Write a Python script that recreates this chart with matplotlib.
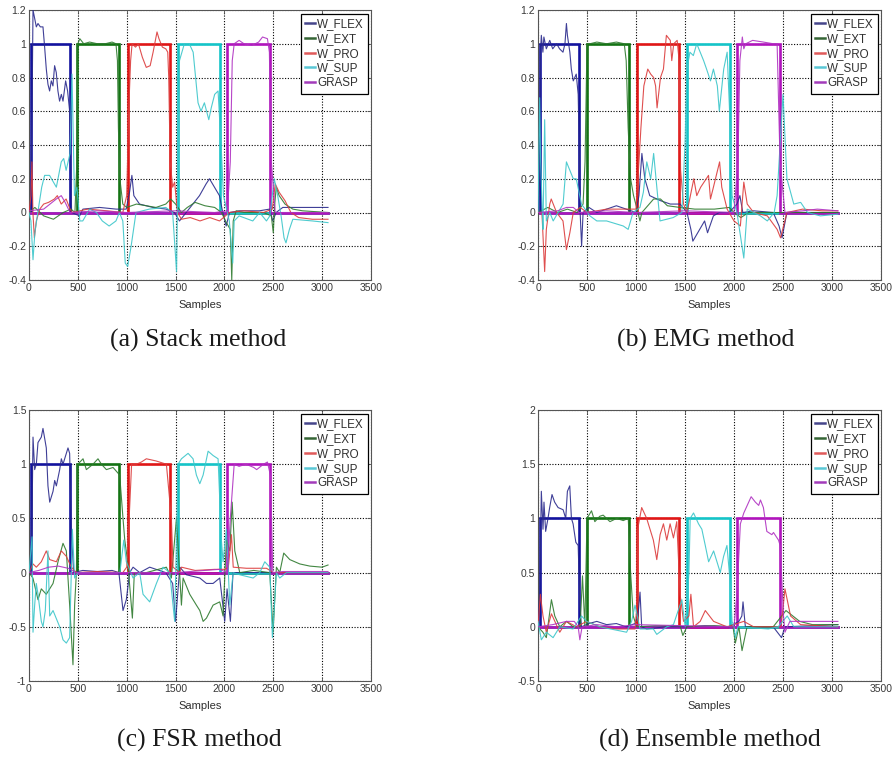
import matplotlib
matplotlib.use("Agg")
import matplotlib.pyplot as plt
from matplotlib.lines import Line2D

# ---------------- data ----------------
CLASSES = ["W_FLEX", "W_EXT", "W_PRO", "W_SUP", "GRASP"]
CAPTIONS = ["(a) Stack method", "(b) EMG method", "(c) FSR method", "(d) Ensemble method"]
X_TICKS = [0, 500, 1000, 1500, 2000, 2500, 3000, 3500]
X_LABEL = "Samples"

# target step intervals (same for all four panels)
TARGET_ON = [25, 495, 1010, 1520, 2030]
TARGET_OFF = [415, 925, 1440, 1955, 2465]
SAMPLE_END = 3060

# y-axis ticks per panel
YT_A = [-0.4, -0.2, 0, 0.2, 0.4, 0.6, 0.8, 1, 1.2]
YL_A = ["-0.4", "-0.2", "0", "0.2", "0.4", "0.6", "0.8", "1", "1.2"]
YT_B = YT_A
YL_B = YL_A
YT_C = [-1, -0.5, 0, 0.5, 1, 1.5]
YL_C = ["-1", "-0.5", "0", "0.5", "1", "1.5"]
YT_D = [-0.5, 0, 0.5, 1, 1.5, 2]
YL_D = ["-0.5", "0", "0.5", "1", "1.5", "2"]

# ---- (a) Stack method outputs ----
A_FLEX_X = [0, 17, 31, 41, 58, 75, 92, 116, 143, 160, 177, 194, 211, 228, 245, 262, 279, 296, 313, 331, 348, 375, 395, 416, 426, 436,
            518, 552, 722, 893, 995, 1029, 1053, 1073, 1131, 1268, 1404, 1489, 1540, 1609, 1677, 1745, 1813, 1847, 1898, 1949, 1983,
            2018, 2052, 2154, 2358, 2461, 2495, 2529, 2597, 2767, 3060]
A_FLEX_Y = [0.0, 0.05, 0.6, 1.2, 1.15, 1.1, 1.12, 1.1, 1.1, 0.98, 0.85, 0.76, 0.72, 0.78, 0.75, 0.87, 0.83, 0.72, 0.66, 0.7, 0.66, 0.78, 0.72, 0.6, 0.3, 0.0,
            -0.02, 0.02, 0.03, 0.02, 0.02, 0.12, 0.22, 0.1, 0.05, 0.03, 0.02, 0.0, -0.05, 0.0, 0.05, 0.1, 0.17, 0.2, 0.15, 0.1, 0.0,
            -0.08, 0.0, 0.01, 0.01, 0.02, -0.05, 0.0, 0.03, 0.03, 0.03]
A_EXT_X = [0, 60, 150, 250, 350, 430, 470, 490, 500, 520, 560, 620, 700, 780, 850, 890, 905, 915, 930, 960, 1000, 1100, 1200, 1300,
           1400, 1450, 1500, 1560, 1620, 1700, 1800, 1900, 1970, 2020, 2060, 2075, 2090, 2120, 2200, 2300, 2400, 2480, 2500, 2515,
           2530, 2560, 2620, 2700, 2800, 3060]
A_EXT_Y = [0.0, 0.03, -0.02, -0.04, 0.0, 0.02, 0.0, 0.3, 1.0, 1.03, 1.0, 1.01, 1.0, 1.0, 1.01, 1.0, 0.9, 0.5, 0.2, 0.05, 0.03, 0.05, 0.04, 0.03,
           0.05, 0.08, 0.05, 0.0, 0.03, 0.06, 0.04, 0.03, 0.0, -0.06, -0.1, -0.4, -0.05, 0.01, 0.0, 0.0, 0.0, -0.02, -0.12, 0.05,
           0.15, 0.1, 0.05, 0.02, 0.01, 0.0]
A_PRO_X = [0, 20, 30, 40, 55, 75, 110, 150, 200, 260, 290, 330, 380, 420, 440, 600, 800, 960, 1000, 1020, 1040, 1055, 1090, 1120,
           1160, 1200, 1240, 1270, 1310, 1330, 1365, 1400, 1420, 1430, 1445, 1470, 1490, 1520, 1560, 1650, 1750, 1850, 1950, 2050,
           2200, 2400, 2490, 2520, 2560, 2620, 2680, 2760, 2900, 3060]
A_PRO_Y = [0.0, 0.1, 0.3, 0.0, -0.15, -0.05, 0.02, 0.05, 0.06, 0.08, 0.1, 0.05, 0.08, 0.02, 0.0, 0.02, 0.01, 0.0, 0.1, 0.6, 0.9, 1.0, 0.98, 1.0,
           0.92, 0.86, 0.87, 0.95, 1.07, 1.03, 0.98, 0.97, 0.95, 0.8, 0.3, 0.15, 0.18, 0.0, -0.04, -0.03, -0.05, -0.03, -0.05, 0.0,
           0.01, 0.0, 0.02, 0.17, 0.12, 0.07, 0.0, -0.03, -0.04, -0.04]
A_SUP_X = [0, 20, 41, 60, 90, 130, 160, 210, 280, 330, 355, 380, 400, 420, 440, 465, 490, 520, 550, 620, 690, 750, 820, 890, 925,
           960, 985, 1010, 1045, 1095, 1230, 1400, 1470, 1510, 1540, 1590, 1640, 1680, 1705, 1730, 1760, 1795, 1840, 1865, 1900,
           1935, 1970, 1990, 2050, 2085, 2100, 2150, 2290, 2360, 2430, 2465, 2510, 2545, 2580, 2610, 2630, 2665, 2700, 2900, 3060]
A_SUP_Y = [0.0, -0.05, -0.28, -0.12, 0.0, 0.15, 0.22, 0.22, 0.15, 0.3, 0.32, 0.25, 0.3, 0.35, 0.82, 0.1, 0.15, -0.05, -0.05, 0.02, 0.0, -0.05, -0.08, -0.05, 0.0,
           -0.05, -0.3, -0.32, -0.2, 0.0, 0.02, 0.03, 0.0, -0.35, 0.9, 1.0, 1.0, 0.95, 0.8, 0.65, 0.6, 0.65, 0.55, 0.62, 0.7,
           0.72, 0.35, 0.1, -0.05, -0.3, -0.05, -0.02, -0.05, 0.0, -0.05, -0.02, 0.2, 0.1, -0.02, -0.15, -0.18, -0.1, -0.04, -0.05, -0.06]
A_GRASP_X = [0, 150, 280, 330, 370, 420, 700, 1000, 1500, 1900, 2030, 2060, 2080, 2100, 2150, 2200, 2280, 2350, 2390, 2440, 2460,
             2480, 2520, 3060]
A_GRASP_Y = [0.01, 0.02, 0.08, 0.1, 0.06, 0.0, 0.01, 0.0, 0.01, 0.0, 0.01, 0.3, 0.9, 1.0, 1.02, 1.0, 0.99, 1.01, 1.04, 1.03, 0.95,
             0.3, 0.0, 0.0]

# ---- (b) EMG method outputs ----
B_FLEX_X = [0, 17, 25, 34, 50, 60, 85, 120, 150, 190, 220, 255, 275, 290, 300, 325, 340, 360, 375, 390, 410, 420, 430, 445, 460,
            520, 600, 700, 800, 900, 1000, 1030, 1060, 1090, 1140, 1250, 1350, 1450, 1520, 1560, 1580, 1650, 1700, 1730, 1790,
            1850, 1950, 2030, 2060, 2090, 2200, 2400, 2460, 2490, 2540, 3060]
B_FLEX_Y = [0.0, 0.2, 0.95, 1.05, 0.95, 1.04, 0.97, 1.02, 0.97, 1.0, 0.97, 0.95, 1.0, 1.12, 1.05, 0.95, 0.85, 0.78, 0.8, 0.82, 0.7, 0.4, 0.0, -0.2, 0.0,
            0.03, 0.0, 0.02, 0.04, 0.02, 0.0, 0.1, 0.35, 0.2, 0.1, 0.07, 0.05, 0.05, 0.0, -0.1, -0.17, -0.1, -0.05, -0.12, -0.02,
            0.0, 0.0, 0.05, 0.1, 0.0, 0.01, 0.0, -0.08, -0.15, 0.0, 0.0]
B_EXT_X = [0, 100, 200, 300, 400, 460, 480, 500, 530, 600, 700, 800, 880, 900, 920, 945, 975, 1020, 1040, 1060, 1180, 1250, 1320,
           1450, 1600, 1800, 1950, 2000, 2070, 2150, 2500, 3060]
B_EXT_Y = [0.0, 0.03, 0.0, 0.02, 0.0, 0.05, 0.3, 1.0, 1.0, 1.01, 1.0, 1.01, 1.0, 0.9, 0.5, 0.2, 0.1, 0.0, -0.05, 0.0, 0.08, 0.08, 0.04,
           0.03, 0.02, 0.02, 0.03, 0.0, -0.03, 0.0, 0.0, 0.0]
B_PRO_X = [0, 40, 68, 85, 120, 135, 190, 255, 290, 325, 360, 430, 500, 700, 900, 1000, 1030, 1050, 1080, 1120, 1150, 1180, 1200,
           1215, 1250, 1280, 1310, 1350, 1365, 1385, 1420, 1440, 1455, 1485, 1520, 1590, 1620, 1660, 1740, 1760, 1790, 1853, 1875,
           1930, 2000, 2065, 2100, 2135, 2200, 2340, 2440, 2475, 2540, 2700, 2900, 3060]
B_PRO_Y = [0.0, 0.0, -0.35, -0.1, 0.05, 0.08, 0.0, -0.05, -0.22, -0.12, 0.0, 0.03, 0.0, 0.02, 0.02, 0.02, 0.3, 0.5, 0.75, 0.85, 0.82, 0.8, 0.75,
           0.62, 0.8, 0.85, 1.05, 1.02, 0.9, 1.0, 1.02, 0.9, 0.25, 0.05, 0.0, 0.2, 0.1, 0.15, 0.22, 0.08, 0.15, 0.3, 0.15,
           0.02, -0.05, -0.08, 0.18, 0.05, 0.0, -0.02, -0.1, -0.15, 0.0, 0.02, 0.01, 0.01]
B_SUP_X = [0, 17, 27, 44, 51, 68, 85, 120, 155, 205, 256, 290, 325, 360, 390, 444, 530, 600, 700, 870, 920, 970, 1040, 1075, 1110,
           1150, 1180, 1245, 1380, 1468, 1500, 1520, 1550, 1585, 1620, 1655, 1690, 1720, 1760, 1790, 1830, 1850, 1895, 1930, 1955,
           1980, 2030, 2100, 2135, 2270, 2340, 2410, 2440, 2500, 2540, 2610, 2680, 2750, 2880, 3060]
B_SUP_Y = [0.0, 0.68, 0.3, 0.0, -0.1, 0.55, -0.05, 0.0, -0.05, 0.0, 0.05, 0.3, 0.25, 0.2, 0.2, 0.05, -0.02, -0.05, -0.05, -0.08, -0.1, 0.0, 0.03, 0.12, 0.3,
           0.2, 0.35, -0.05, -0.03, 0.0, 0.4, 0.85, 0.95, 0.93, 1.0, 0.95, 0.9, 0.85, 0.78, 0.85, 0.75, 0.6, 0.85, 0.95, 0.6,
           0.1, 0.0, -0.27, 0.02, -0.02, -0.05, 0.0, 0.1, 0.7, 0.2, 0.05, 0.06, 0.0, -0.02, -0.01]
B_GRASP_X = [0, 200, 290, 360, 420, 700, 1000, 1500, 2000, 2040, 2060, 2085, 2100, 2120, 2190, 2300, 2400, 2440, 2470, 2520, 2700,
             2850, 3060]
B_GRASP_Y = [0.0, 0.01, 0.03, 0.03, 0.0, 0.01, 0.0, 0.01, 0.0, 0.3, 0.9, 1.04, 0.97, 1.0, 1.02, 1.01, 1.0, 1.0, 0.3, 0.0, 0.01,
             0.02, 0.01]

# ---- (c) FSR method outputs ----
C_FLEX_X = [0, 20, 31, 41, 58, 75, 92, 126, 143, 177, 194, 212, 246, 263, 280, 314, 331, 348, 399, 416, 433, 457, 550, 700, 850,
            920, 962, 996, 1030, 1065, 1133, 1235, 1400, 1470, 1500, 1543, 1611, 1748, 1816, 1884, 1952, 2003, 2027, 2061, 2088,
            2300, 3060]
C_FLEX_Y = [0.0, 0.0, 0.5, 1.25, 0.95, 1.0, 1.2, 1.25, 1.33, 1.15, 0.8, 0.65, 0.75, 0.85, 0.8, 0.95, 1.05, 1.0, 1.15, 1.1, 0.4, 0.0, 0.02, 0.01, 0.02,
            0.0, -0.35, -0.25, 0.0, 0.05, 0.0, 0.05, 0.0, -0.1, -0.45, 0.05, -0.02, -0.05, -0.1, -0.1, -0.05, -0.45, -0.15, -0.45, 0.0,
            0.0, 0.0]
C_EXT_X = [0, 40, 92, 126, 177, 246, 297, 348, 382, 416, 450, 467, 485, 500, 553, 587, 655, 706, 741, 792, 860, 928, 962, 980,
           1010, 1058, 1078, 1200, 1406, 1457, 1509, 1560, 1577, 1645, 1713, 1748, 1782, 1816, 1884, 1952, 1986, 2020, 2055, 2079,
           2106, 2157, 2300, 2464, 2498, 2532, 2566, 2607, 2669, 2771, 2874, 2999, 3060]
C_EXT_Y = [0.0, -0.05, -0.25, -0.15, -0.2, -0.1, 0.1, 0.27, 0.2, -0.3, -0.85, -0.3, 0.0, 1.0, 1.05, 0.95, 1.0, 1.05, 1.0, 0.95, 0.97, 0.9, 0.5, 0.3,
           0.1, -0.42, 0.0, 0.0, 0.05, -0.05, 0.5, -0.3, -0.05, -0.2, -0.3, -0.35, -0.45, -0.42, -0.3, -0.27, -0.4, 0.3, 0.2, 0.65,
           0.2, 0.0, 0.02, 0.0, -0.55, 0.05, 0.0, 0.18, 0.12, 0.08, 0.06, 0.05, 0.07]
C_PRO_X = [0, 41, 75, 126, 177, 212, 280, 331, 382, 433, 485, 700, 960, 1000, 1030, 1050, 1100, 1150, 1201, 1300, 1406, 1457, 1474,
           1543, 1560, 1700, 1900, 2000, 2040, 2072, 2090, 2225, 2430, 2500, 3060]
C_PRO_Y = [0.0, 0.08, 0.05, 0.1, 0.2, 0.12, 0.1, 0.2, 0.15, 0.05, 0.0, 0.01, 0.0, 0.05, 0.6, 1.0, 1.0, 1.02, 1.05, 1.03, 1.0, 0.5, 0.05,
           0.0, 0.05, 0.02, 0.03, 0.03, 0.05, 0.35, 0.05, 0.04, 0.04, 0.0, 0.0]
C_SUP_X = [0, 31, 41, 58, 75, 92, 126, 143, 167, 194, 212, 246, 314, 348, 382, 416, 444, 467, 500, 700, 930, 970, 996, 1065, 1133,
           1167, 1235, 1304, 1372, 1440, 1491, 1526, 1560, 1628, 1679, 1713, 1748, 1782, 1833, 1884, 1935, 1969, 1986, 2020, 2055,
           2089, 2157, 2294, 2362, 2413, 2464, 2491, 2532, 2566, 2635, 3060]
C_SUP_Y = [0.0, 0.33, -0.55, -0.3, -0.1, -0.2, -0.45, -0.5, -0.35, 0.2, -0.4, -0.35, -0.5, -0.62, -0.65, -0.6, 0.4, -0.05, 0.0, 0.0, 0.0, 0.3, 0.1, -0.05, 0.0,
           -0.2, -0.27, -0.1, 0.05, 0.0, -0.45, 1.0, 1.05, 1.1, 1.05, 0.9, 0.82, 0.9, 1.12, 1.08, 1.05, 0.3, 0.1, 0.4, -0.3,
           0.0, -0.02, -0.05, 0.0, 0.1, 0.05, -0.6, 0.0, -0.05, 0.0, 0.0]
C_GRASP_X = [0, 100, 200, 300, 400, 480, 1000, 1500, 1800, 1950, 2030, 2060, 2100, 2150, 2220, 2300, 2330, 2400, 2440, 2470, 2495,
             2600, 3060]
C_GRASP_Y = [0.0, 0.02, 0.05, 0.06, 0.04, 0.0, 0.0, 0.0, 0.02, 0.03, 0.0, 0.5, 1.0, 0.98, 1.0, 0.97, 0.95, 1.0, 1.02, 0.9, 0.0,
             0.01, 0.01]

# ---- (d) Ensemble method outputs ----
D_FLEX_X = [0, 17, 34, 51, 61, 78, 102, 119, 143, 170, 205, 256, 283, 300, 324, 341, 358, 386, 410, 427, 444, 520, 600, 700, 800,
            900, 990, 1020, 1041, 1058, 1109, 1300, 1500, 1700, 1950, 2050, 2080, 2092, 2116, 2400, 2485, 2520, 3060]
D_FLEX_Y = [0.0, 0.3, 1.25, 0.9, 1.15, 0.88, 1.0, 1.1, 1.22, 1.15, 1.1, 1.08, 1.0, 1.25, 1.3, 1.0, 0.95, 0.78, 0.75, 0.2, 0.0, 0.03, 0.05, 0.02, 0.03,
            0.0, 0.03, 0.1, 0.32, 0.0, -0.02, 0.0, 0.0, 0.01, 0.0, 0.05, 0.1, 0.23, 0.0, 0.0, -0.1, 0.0, 0.02]
D_EXT_X = [0, 50, 85, 137, 171, 222, 290, 359, 430, 454, 478, 500, 546, 580, 631, 665, 734, 802, 870, 921, 945, 972, 1006, 1200,
           1450, 1478, 1519, 1800, 1990, 2014, 2050, 2082, 2133, 2400, 2530, 2670, 2800, 3060]
D_EXT_Y = [0.0, -0.05, -0.1, 0.25, 0.1, 0.0, 0.05, 0.0, 0.0, 0.47, 0.0, 1.0, 1.07, 0.97, 1.02, 1.03, 0.97, 1.0, 0.98, 1.0, 0.5, 0.1, 0.0, 0.01,
           0.01, -0.08, 0.0, 0.01, 0.0, -0.15, 0.0, -0.22, 0.0, 0.0, 0.15, 0.05, 0.02, 0.02]
D_PRO_X = [0, 24, 51, 85, 137, 222, 290, 393, 495, 631, 800, 990, 1010, 1017, 1058, 1109, 1143, 1177, 1212, 1246, 1280, 1314, 1348,
           1382, 1416, 1450, 1485, 1540, 1560, 1587, 1655, 1707, 1792, 1928, 2100, 2200, 2480, 2520, 2577, 2680, 3060]
D_PRO_Y = [0.0, 0.3, 0.1, -0.05, 0.12, -0.05, 0.05, 0.0, 0.05, 0.0, -0.02, -0.02, 0.2, 0.9, 1.1, 1.0, 0.9, 0.8, 0.62, 0.85, 0.95, 0.8, 0.95,
           0.82, 0.97, 0.3, 0.05, 0.1, 0.3, 0.0, 0.05, 0.15, 0.05, 0.0, 0.05, 0.0, 0.0, 0.35, 0.1, 0.02, 0.0]
D_SUP_X = [0, 34, 85, 154, 222, 358, 444, 495, 631, 904, 955, 990, 1041, 1177, 1212, 1314, 1382, 1468, 1502, 1540, 1553, 1587, 1638,
           1672, 1707, 1741, 1792, 1826, 1860, 1894, 1928, 1962, 1980, 2000, 2014, 2040, 2350, 2450, 2543, 2611, 3060]
D_SUP_Y = [0.05, -0.12, -0.05, -0.1, 0.0, -0.02, 0.1, 0.05, 0.0, -0.05, 0.05, 0.2, -0.02, -0.02, -0.07, 0.0, 0.02, 0.25, 0.0, 0.5, 1.0, 1.05, 0.95,
           0.9, 0.75, 0.6, 0.7, 0.6, 0.5, 0.65, 0.75, 0.4, 0.05, 0.0, -0.1, 0.0, -0.02, 0.0, 0.1, 0.0, 0.0]
D_GRASP_X = [0, 150, 290, 370, 410, 427, 450, 600, 800, 1000, 1500, 2000, 2030, 2065, 2100, 2175, 2218, 2252, 2270, 2300, 2335,
             2386, 2403, 2454, 2471, 2505, 2520, 2570, 3060]
D_GRASP_Y = [0.0, 0.02, 0.05, 0.05, 0.0, -0.12, 0.0, 0.02, 0.0, 0.02, 0.01, 0.0, 0.3, 0.95, 1.05, 1.2, 1.15, 1.12, 1.17, 1.1, 0.88,
             0.85, 0.87, 0.8, 0.75, 0.1, -0.05, 0.05, 0.05]

# ---------------- style ----------------
THICK_COLORS = ["#12129e", "#137313", "#e01616", "#14c4c8", "#b014bc"]
THIN_COLORS = ["#2a2a8c", "#2e7a2e", "#dc3c3c", "#3cc6ca", "#b032c2"]
LEG_COLORS = ["#45458a", "#356535", "#e05a5a", "#5ac8d6", "#a23cba"]

panels = [
    dict(series=[(A_FLEX_X, A_FLEX_Y), (A_EXT_X, A_EXT_Y), (A_PRO_X, A_PRO_Y), (A_SUP_X, A_SUP_Y), (A_GRASP_X, A_GRASP_Y)],
         yt=YT_A, yl=YL_A, ylim=(-0.4, 1.2), rect=[29 / 893, 1 - 280 / 758, 342 / 893, 270 / 758],
         cap=(198 / 893, 1 - 340 / 758)),
    dict(series=[(B_FLEX_X, B_FLEX_Y), (B_EXT_X, B_EXT_Y), (B_PRO_X, B_PRO_Y), (B_SUP_X, B_SUP_Y), (B_GRASP_X, B_GRASP_Y)],
         yt=YT_B, yl=YL_B, ylim=(-0.4, 1.2), rect=[538 / 893, 1 - 280 / 758, 343 / 893, 270 / 758],
         cap=(706 / 893, 1 - 340 / 758)),
    dict(series=[(C_FLEX_X, C_FLEX_Y), (C_EXT_X, C_EXT_Y), (C_PRO_X, C_PRO_Y), (C_SUP_X, C_SUP_Y), (C_GRASP_X, C_GRASP_Y)],
         yt=YT_C, yl=YL_C, ylim=(-1, 1.5), rect=[29 / 893, 1 - 681 / 758, 342 / 893, 271 / 758],
         cap=(199 / 893, 1 - 740 / 758)),
    dict(series=[(D_FLEX_X, D_FLEX_Y), (D_EXT_X, D_EXT_Y), (D_PRO_X, D_PRO_Y), (D_SUP_X, D_SUP_Y), (D_GRASP_X, D_GRASP_Y)],
         yt=YT_D, yl=YL_D, ylim=(-0.5, 2), rect=[538 / 893, 1 - 681 / 758, 343 / 893, 271 / 758],
         cap=(710 / 893, 1 - 740 / 758)),
]

fig = plt.figure(figsize=(8.93, 7.58), dpi=100)
fig.patch.set_facecolor("white")

for i, p in enumerate(panels):
    ax = fig.add_axes(p["rect"])
    # target step signals
    for k in range(len(CLASSES)):
        tx = [0, TARGET_ON[k], TARGET_ON[k], TARGET_OFF[k], TARGET_OFF[k], SAMPLE_END]
        ty = [0, 0, 1, 1, 0, 0]
        ax.plot(tx, ty, color=THICK_COLORS[k], lw=1.9, solid_joinstyle="miter", zorder=2)
    # classifier outputs
    for k, (sx, sy) in enumerate(p["series"]):
        ax.plot(sx, sy, color=THIN_COLORS[k], lw=0.8, alpha=0.9, zorder=3)
    ax.set_xlim(0, 3500)
    ax.set_ylim(*p["ylim"])
    ax.set_xticks(X_TICKS)
    ax.set_xticklabels([str(t) for t in X_TICKS])
    ax.set_yticks(p["yt"])
    ax.set_yticklabels(p["yl"])
    ax.grid(True, linestyle=(0, (1, 1.5)), color="black", linewidth=0.8)
    ax.tick_params(direction="in", length=3, width=0.6, colors="#505050", labelsize=7.5, pad=2,
                   top=True, right=True, labelcolor="#383838")
    for lab in ax.get_xticklabels() + ax.get_yticklabels():
        lab.set_fontfamily("Liberation Sans")
    for s in ax.spines.values():
        s.set_color("#555555")
        s.set_linewidth(0.8)
    ax.set_xlabel(X_LABEL, fontsize=8, family="Liberation Sans", color="#303030", labelpad=5)
    handles = [Line2D([0], [0], color=c, lw=1.8) for c in LEG_COLORS]
    leg = ax.legend(handles, CLASSES, loc="upper right", bbox_to_anchor=(0.992, 0.987), borderaxespad=0,
                    fancybox=False, framealpha=1, edgecolor="black", handlelength=0.8, handletextpad=0.2,
                    labelspacing=0.24, borderpad=0.4, prop=dict(family="Liberation Sans", size=8.4))
    leg.get_frame().set_linewidth(0.9)
    for t in leg.get_texts():
        t.set_color("#303030")
    fig.text(p["cap"][0], p["cap"][1], CAPTIONS[i], ha="center", va="center",
             family="Liberation Serif", fontsize=18.5, color="#1a1a1a")

fig.savefig("out.png", dpi=100, facecolor="white")
